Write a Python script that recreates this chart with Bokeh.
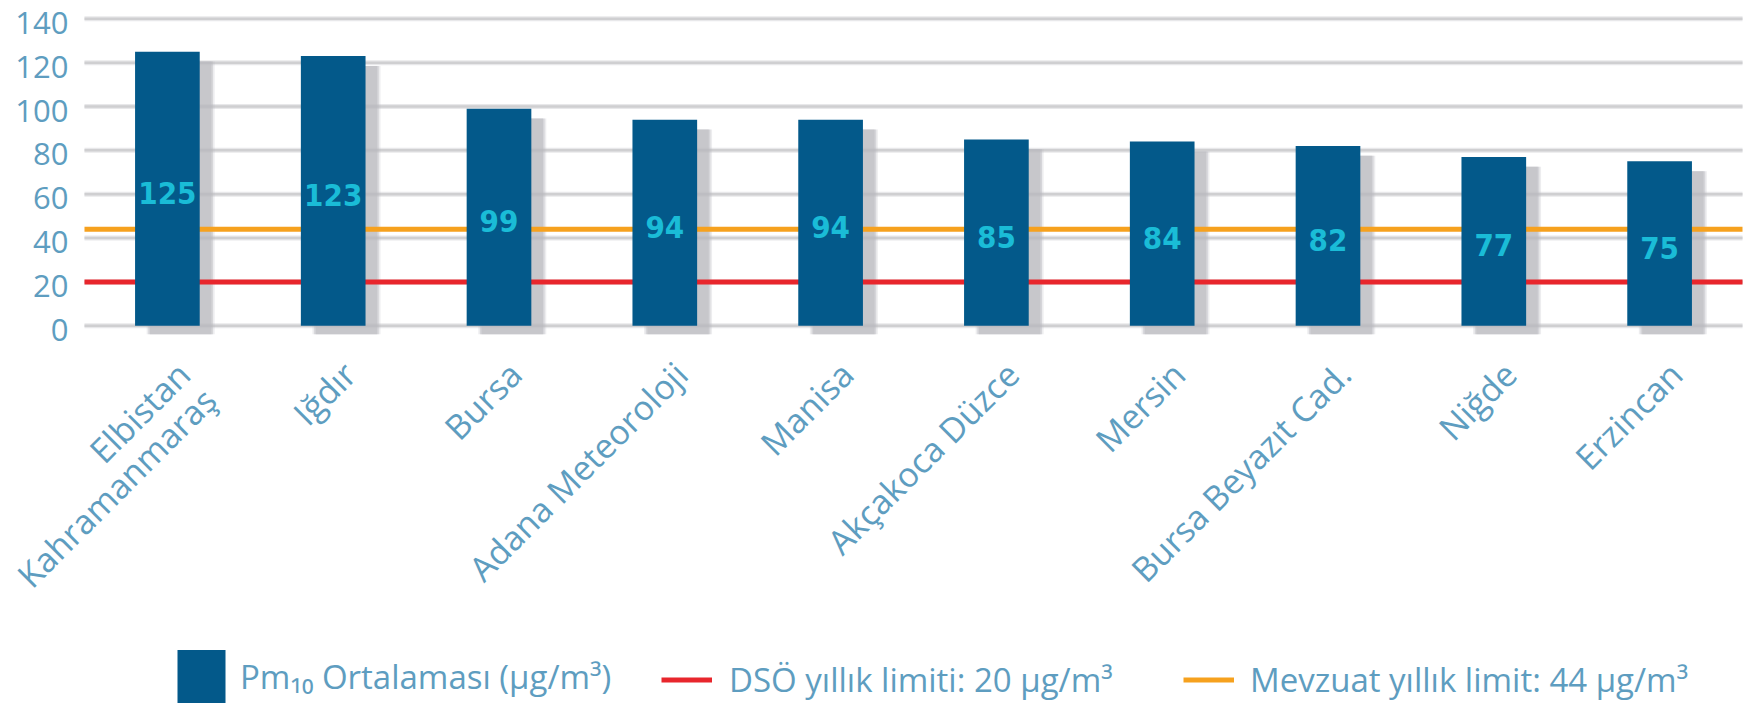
import math
from bokeh.plotting import figure
from bokeh.models import Range1d, Legend, LegendItem, ColumnDataSource
from bokeh.embed import file_html
from bokeh.resources import INLINE
from bokeh.core.properties import value

# ---- data ----
cities = ["Elbistan\nKahramanmaraş", "Iğdır", "Bursa", "Adana Meteoroloji", "Manisa",
          "Akçakoca Düzce", "Mersin", "Bursa Beyazıt Cad.", "Niğde", "Erzincan"]
pm10 = [125, 123, 99, 94, 94, 85, 84, 82, 77, 75]
who_limit = 20
national_limit = 44
y_ticks = [0, 20, 40, 60, 80, 100, 120, 140]
bar_label = "Pm₁₀ Ortalaması (µg/m³)"
who_label = "DSÖ yıllık limiti: 20 µg/m³"
nat_label = "Mevzuat yıllık limit: 44 µg/m³"

# ---- style ----
BAR = "#03598A"
CYAN = "#1ABCD7"
TXT = "#5E9DC0"
FONT = "Open Sans"

n = len(cities)
pos = [i + 0.5 for i in range(n)]  # slot centres on the index axis
src = ColumnDataSource(dict(
    x=pos,
    xs=[x + 0.08 for x in pos],
    val=pm10,
    mid=[v / 2 for v in pm10],
    shadow_top=[v - 4.5 for v in pm10],
    lab=[str(v) for v in pm10],
    zero=[0] * n,
    city=cities,
))
tick_src = ColumnDataSource(dict(
    y=y_ticks,
    x0=[0] * len(y_ticks),
    x1=[n] * len(y_ticks),
    lab=[str(t) for t in y_ticks],
))

# the frame covers the whole canvas; the slot axis runs from 0 to n
p = figure(width=1762, height=707, output_backend="svg", toolbar_location=None,
           x_range=Range1d(-0.5066, n + 0.1206), y_range=Range1d(-174.05, 148.34),
           x_axis_location=None, y_axis_location=None,
           min_border_left=0, min_border_right=0, min_border_top=0, min_border_bottom=0)
p.outline_line_color = None
p.background_fill_color = "white"
p.border_fill_color = "white"
p.xgrid.visible = False
p.ygrid.visible = False

# gridlines with a faint halo
p.segment(x0="x0", x1="x1", y0="y", y1="y", source=tick_src, line_color="#E8E8EA",
          line_width=5)
p.segment(x0="x0", x1="x1", y0="y", y1="y", source=tick_src, line_color="#CFCFD1",
          line_width=2.5)

# y tick labels
p.text(x="x0", y="y", text="lab", source=tick_src, x_offset=-16, y_offset=4,
       text_align="right", text_baseline="middle", text_font=value(FONT),
       text_font_size="31px", text_color=TXT)

# shadows (soft)
for dw, a in [(0.02, 0.25), (0.0, 0.45), (-0.02, 0.5)]:
    p.vbar(x="xs", top="shadow_top", bottom=-3.8, width=0.39 + dw, source=src,
           fill_color="#B9B9BE", fill_alpha=a, line_color=None)

# limit lines
r_who = p.line(x=[0, n], y=[who_limit, who_limit], line_color="#E8262C", line_width=5)
r_nat = p.line(x=[0, n], y=[national_limit, national_limit], line_color="#F6A11E",
               line_width=5)

# bars
r_bar = p.vbar(x="x", top="val", bottom=0, width=0.39, source=src,
               fill_color=BAR, line_color=None)

# value labels
p.text(x="x", y="mid", text="lab", source=src, text_align="center",
       text_baseline="middle", y_offset=4, text_font=value("DejaVu Sans Condensed"),
       text_font_style="bold", text_font_size="31px", text_color=CYAN)

# category labels, rotated 45 degrees under each bar
p.text(x="x", y="zero", text="city", source=src, angle=math.pi / 4,
       x_offset=0, y_offset=26, text_align="right", text_baseline="top",
       text_font=value(FONT), text_font_size="34px", text_color=TXT,
       text_line_height=0.8)

# legends
def mk_legend(label, rend, loc, gw, gh, standoff):
    lg = Legend(items=[LegendItem(label=label, renderers=[rend])], location=loc,
                glyph_width=gw, glyph_height=gh, label_standoff=standoff,
                padding=0, margin=0, border_line_alpha=0, background_fill_alpha=0,
                label_text_font=FONT, label_text_font_size="33px",
                label_text_color=TXT, label_height=gh)
    p.add_layout(lg, "center")

mk_legend(bar_label, r_bar, (171, -2), 60, 66, 9)
mk_legend(who_label, r_who, (661, 1), 51, 53, 17)
mk_legend(nat_label, r_nat, (1183, 1), 51, 53, 16)

open("out.html", "w").write(file_html(p, INLINE))
